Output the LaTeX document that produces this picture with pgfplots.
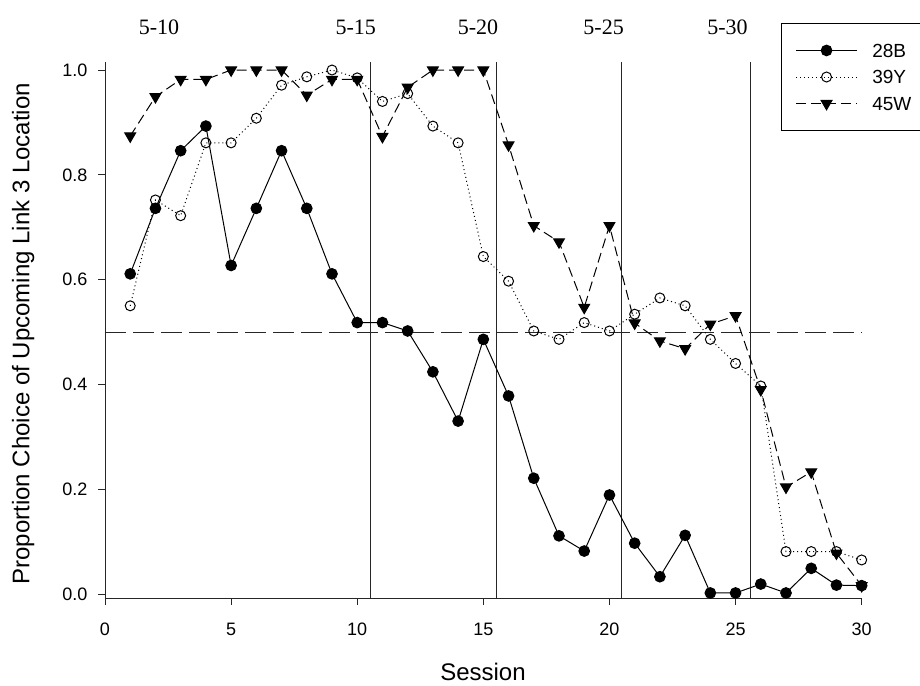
\documentclass[border=0pt]{standalone}
\usepackage{pgfplots}
\usepackage{pgfplotstable}
\pgfplotsset{compat=1.18}
\usepackage{fontspec}
\setmainfont{Liberation Sans}
\newfontfamily\datefont{Liberation Serif}

% Proportion of choices of the upcoming link-3 location, per session
\pgfplotstableread{
session b28   y39   w45
1       0.611 0.550 0.874
2       0.736 0.752 0.949
3       0.846 0.722 0.982
4       0.893 0.861 0.982
5       0.627 0.861 1.000
6       0.736 0.908 1.000
7       0.846 0.971 1.000
8       0.736 0.987 0.952
9       0.611 1.000 0.982
10      0.518 0.985 0.982
11      0.518 0.940 0.873
12      0.502 0.955 0.967
13      0.424 0.893 1.000
14      0.330 0.861 1.000
15      0.486 0.644 1.000
16      0.378 0.597 0.857
17      0.221 0.502 0.703
18      0.111 0.486 0.672
19      0.082 0.518 0.547
20      0.189 0.502 0.703
21      0.097 0.534 0.517
22      0.033 0.565 0.483
23      0.112 0.550 0.468
24      0.002 0.486 0.515
25      0.002 0.440 0.531
26      0.019 0.397 0.390
27      0.002 0.081 0.204
28      0.049 0.081 0.233
29      0.017 0.081 0.078
30      0.016 0.065 0.016
}\choicedata

% wide legend cell so the frame runs past the right edge
\newcommand{\legendtext}[1]{\makebox[80pt][l]{#1}}

\begin{document}
\begin{tikzpicture}
\useasboundingbox (0,0) rectangle (690pt,513.75pt);
\clip (0,0) rectangle (690pt,513.75pt);
\begin{axis}[
  at={(78.75pt,65.25pt)}, anchor=south west,
  scale only axis, width=567.5pt, height=402pt,
  xmin=0, xmax=30, ymin=-0.0076, ymax=1.0153,
  axis x line=bottom, axis y line=left,
  axis line style={-, black!85, line width=0.75pt},
  tick align=outside, major tick length=5pt,
  tick style={black!85, line width=0.75pt},
  xtick={0,5,...,30}, ytick={0,0.2,0.4,0.6,0.8,1.0},
  yticklabel style={/pgf/number format/fixed, /pgf/number format/fixed zerofill,
    /pgf/number format/precision=1, xshift=-4.75pt},
  xticklabel style={yshift=-10pt},
  ticklabel style={font=\fontsize{13.5}{16}\selectfont},
  /pgf/number format/assume math mode=true,
  xlabel={Session},
  ylabel={Proportion Choice of Upcoming Link 3 Location},
  label style={font=\fontsize{18}{21}\selectfont},
  xlabel style={at={(axis description cs:0.4995,-0.138)}, anchor=center},
  ylabel style={at={(axis description cs:-0.108,0.493)}, anchor=center},
  clip=false,
  legend style={
    at={(axis description cs:0.8934,1.0728)}, anchor=north west,
    draw=black, line width=0.75pt,
    font=\fontsize{14.25}{17}\selectfont,
    inner xsep=10.5pt, inner ysep=13.25pt,
    row sep=5.9pt,
    /tikz/every odd column/.append style={column sep=11pt},
    nodes={inner sep=0pt, text height=12pt, text depth=2pt},
    cells={anchor=west},
  },
  legend image code/.code={
    \draw[mark repeat=2, mark phase=2, #1]
      plot coordinates {(0pt,0pt) (22.9pt,0pt) (45.8pt,0pt)};
  },
]
% chance level and phase boundaries
\addplot[forget plot, black!85, line width=0.75pt, dash pattern=on 16pt off 5pt]
  coordinates {(0,0.5) (30,0.5)};
\addplot[forget plot, black!85, line width=0.75pt] coordinates {(10.54,-0.0076) (10.54,1.0153)};
\addplot[forget plot, black!85, line width=0.75pt] coordinates {(15.53,-0.0076) (15.53,1.0153)};
\addplot[forget plot, black!85, line width=0.75pt] coordinates {(20.46,-0.0076) (20.46,1.0153)};
\addplot[forget plot, black!85, line width=0.75pt] coordinates {(25.60,-0.0076) (25.60,1.0153)};

\addplot[black, line width=0.75pt, mark=*, mark size=4pt, mark options={solid, fill=black}]
  table[x=session, y=b28] {\choicedata};
\addlegendentry{\legendtext{28B}}
\addplot[black, line width=0.75pt, dash pattern=on 0.75pt off 2.25pt,
  mark=o, mark size=3.75pt, mark options={solid, fill=white}]
  table[x=session, y=y39] {\choicedata};
\addlegendentry{\legendtext{39Y}}
\addplot[black, line width=0.75pt, dash pattern=on 7.5pt off 3.75pt,
  mark=triangle*, mark size=4.7pt, mark options={solid, rotate=180, fill=black}]
  table[x=session, y=w45] {\choicedata};
\addlegendentry{\legendtext{45W}}

% session-range labels above the phases
\node[font=\datefont\fontsize{16.5}{19}\selectfont] at (axis cs:2.14,1.081) {5-10};
\node[font=\datefont\fontsize{16.5}{19}\selectfont] at (axis cs:9.94,1.081) {5-15};
\node[font=\datefont\fontsize{16.5}{19}\selectfont] at (axis cs:14.79,1.081) {5-20};
\node[font=\datefont\fontsize{16.5}{19}\selectfont] at (axis cs:19.77,1.081) {5-25};
\node[font=\datefont\fontsize{16.5}{19}\selectfont] at (axis cs:24.68,1.081) {5-30};
\end{axis}
\end{tikzpicture}
\end{document}
